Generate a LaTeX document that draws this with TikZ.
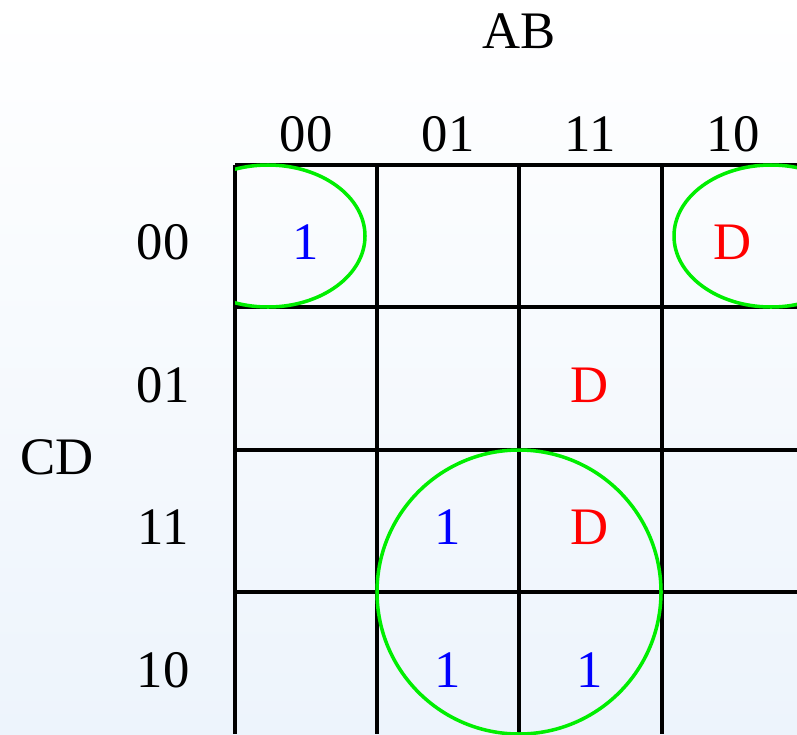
\documentclass[tikz,border=0pt]{standalone}
\usepackage{fontspec}
\setmainfont{Liberation Serif}
\usepackage{xcolor}
\definecolor{kmapBg}{HTML}{EDF4FC}
\definecolor{kmapOne}{HTML}{0000FF}
\definecolor{kmapDont}{HTML}{FF0000}
\definecolor{kmapLoop}{HTML}{00EE00}

\tikzset{
  lbl/.style={inner sep=0pt, font=\fontsize{30}{36}\selectfont},
  one/.style={lbl, text=kmapOne},
  dontcare/.style={lbl, text=kmapDont},
  gridline/.style={black, line width=2.4pt},
  loop/.style={kmapLoop, line width=2pt}
}

\begin{document}
\begin{tikzpicture}[x=0.02cm, y=-0.02cm]
  \shade[top color=white, bottom color=kmapBg] (0,0) rectangle (797,734);
  \useasboundingbox (0,0) rectangle (797,734);
  % variable names
  \node[lbl] (ab) at (519,31) {AB};
  \node[lbl] (cd) at (57,457) {CD};
  % column labels
  \node[lbl] (c00) at (306,134) {00};
  \node[lbl] (c01) at (448,134) {01};
  \node[lbl] (c11) at (590,134) {11};
  \node[lbl] (c10) at (733,134) {10};
  % row labels
  \node[lbl] (r00) at (163,242) {00};
  \node[lbl] (r01) at (163,385) {01};
  \node[lbl] (r11) at (163,527) {11};
  \node[lbl] (r10) at (163,670) {10};
  % grid
  \draw[gridline] (235,165) -- (797,165);
  \draw[gridline] (235,307) -- (797,307);
  \draw[gridline] (235,450) -- (797,450);
  \draw[gridline] (235,592) -- (797,592);
  \draw[gridline] (235,165) -- (235,734);
  \draw[gridline] (377,165) -- (377,734);
  \draw[gridline] (519,165) -- (519,734);
  \draw[gridline] (662,165) -- (662,734);
  % cell values
  \node[one] (m0) at (306,242) {1};
  \node[dontcare] (m8) at (733,242) {D};
  \node[dontcare] (m13) at (590,385) {D};
  \node[one] (m7) at (448,527) {1};
  \node[dontcare] (m15) at (590,527) {D};
  \node[one] (m6) at (448,670) {1};
  \node[one] (m14) at (590,670) {1};
  % groups
  \begin{scope}
    \clip (235,150) rectangle (797,734);
    \draw[loop] (268,236) ellipse [x radius=97, y radius=71];
    \draw[loop] (771,236) ellipse [x radius=97, y radius=71];
    \draw[loop] (519,592) circle [radius=142];
  \end{scope}
\end{tikzpicture}
\end{document}
